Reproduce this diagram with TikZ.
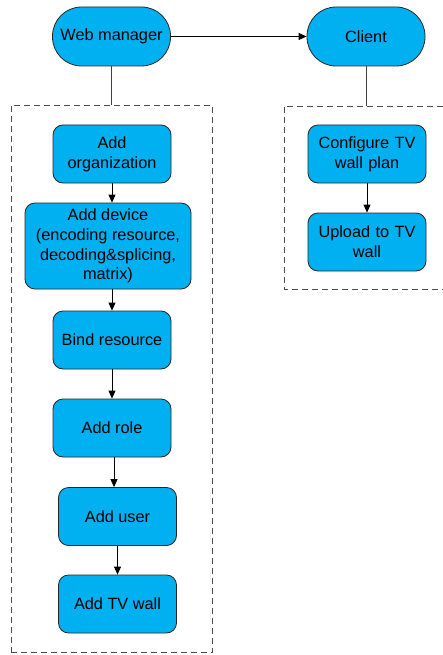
\documentclass[tikz,border=0pt]{standalone}
\usepackage{fontspec}
\setmainfont{Liberation Sans}
\usetikzlibrary{arrows.meta, positioning}

\definecolor{stepblue}{HTML}{00B0F0}

\begin{document}
\begin{tikzpicture}[
  x=1pt, y=-1pt, >={Triangle[length=8pt, width=7pt]},
  font=\fontsize{16.3}{19.7}\selectfont,
  box/.style={draw=black!85, line width=0.8pt, fill=stepblue, rounded corners=10pt,
    minimum width=118pt, minimum height=58pt, align=center, inner sep=2pt},
  actor/.style={box, rounded corners=29pt, minimum height=59pt},
  group/.style={draw=black!70, dashed, dash pattern=on 6pt off 4pt, line width=0.8pt},
  arr/.style={->, line width=0.8pt, draw=black},
]

  \useasboundingbox (0,0) rectangle (443,655);

  % Actors
  \node[actor] (web) at (111.5, 36.5) {Web manager};
  \node[actor] (client) at (366, 36.5) {Client};

  % Dashed groups
  \node[group, minimum width=201pt, minimum height=547pt, inner sep=0pt] (leftgrp) at (111.5, 379) {};
  \coordinate (rtopr) at (443, 106);
  \coordinate (rtopl) at (284, 106);
  \coordinate (rbotl) at (284, 289);
  \coordinate (rbotr) at (443, 289);
  \draw[group] (rtopr) -- (rtopl) -- (rbotl) -- (rbotr);

  % Web manager steps
  \node[box, text width=104pt] (org) at (112, 154) {Add\\organization};
  \node[box, minimum width=166pt, minimum height=86pt] (device) at (108, 246)
    {Add device\\(encoding resource,\\decoding\&splicing,\\matrix)};
  \node[box] (bind) at (112, 340) {Bind resource};
  \node[box] (role) at (112, 428) {Add role};
  \node[box] (user) at (117.5, 516.5) {Add user};
  \node[box] (tvwall) at (117.5, 604) {Add TV wall};

  % Client steps
  \node[box, text width=110pt] (plan) at (367, 154) {Configure TV\\wall plan};
  \node[box, text width=110pt] (upload) at (367, 242) {Upload to TV\\wall};

  % Connections
  \draw[arr] (web.east) -- (client.west);
  \draw[line width=0.8pt, black!75] (web.south) -- (web.south |- leftgrp.north);
  \draw[line width=0.8pt, black!75] (client.south) -- (client.south |- rtopl);

  \draw[arr] (org.south) -- (org.south |- device.north);
  \draw[arr] (org.south |- device.south) -- (bind.north);
  \draw[arr] (bind.south) -- (role.north);
  \draw[arr] ([xshift=2pt]role.south) -- ([xshift=2pt]role.south |- user.north);
  \draw[arr] (user.south) -- (tvwall.north);

  \draw[arr] (plan.south) -- (upload.north);

\end{tikzpicture}
\end{document}
